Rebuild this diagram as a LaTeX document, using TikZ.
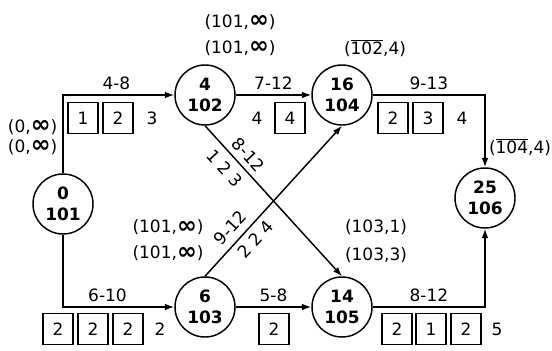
\documentclass[tikz,border=0pt]{standalone}
\usepackage{graphicx}
\usepackage{fontspec}
\setmainfont{DejaVu Sans}
\usetikzlibrary{arrows.meta}
\newcommand{\boldinf}{\raisebox{-0.5pt}{\scalebox{1.4}{\textbf{∞}}}}

\begin{document}
\begin{tikzpicture}[
        x=0.75pt, y=-0.75pt,
        event/.style={circle, draw, line width=1.1pt, minimum size=45pt, inner sep=0pt,
                      align=center, font=\fontsize{12.75}{15.5}\selectfont\bfseries},
        slot/.style={draw, line width=1pt, minimum width=22.5pt, minimum height=23.5pt,
                     inner sep=0pt, font=\fontsize{12.75}{15}\selectfont},
        arr/.style={-{Latex[length=7pt, width=5pt]}, line width=1.1pt},
        lbl/.style={font=\fontsize{12.75}{15}\selectfont},
        pair/.style={align=center, font=\fontsize{12.75}{19.5}\selectfont}
    ]
    \useasboundingbox (0,0) rectangle (552,350);
    % Events
    \node[event] (e0)  at (63,204)  {0\\101};
    \node[event] (e4)  at (205,95)  {4\\102};
    \node[event] (e16) at (342,95)  {16\\104};
    \node[event] (e25) at (485,198) {25\\106};
    \node[event] (e6)  at (205,307) {6\\103};
    \node[event] (e14) at (342,307) {14\\105};
    % Activities
    \draw[arr] (e0) |- (e4) node[pos=0.74, above, lbl] {4-8};
    \draw[arr] (e0) |- (e6) node[pos=0.7, above, lbl] {6-10};
    \draw[arr] (e4) -- (e16) node[midway, above, lbl] {7-12};
    \draw[arr] (e6) -- (e14) node[midway, above, lbl] {5-8};
    \draw[arr] (e16) -| (e25) node[pos=0.25, above, lbl] {9-13};
    \draw[arr] (e14) -| (e25) node[pos=0.25, above, lbl] {8-12};
    \draw[arr] (e4.south) -- (e14.north)
        node[pos=0.25, sloped, above=3pt, lbl, inner sep=1pt] {8-12}
        node[pos=0.22, sloped, below=4pt, lbl, inner sep=1pt] {1 2 3};
    \draw[arr] (e6.north) -- (e16.south)
        node[pos=0.26, sloped, above=4pt, lbl, inner sep=1pt] {9-12}
        node[pos=0.30, sloped, below=3pt, lbl, inner sep=1pt] {2 2 4};
    % Resource boxes
    \foreach \x/\v in {83/1, 118/2, 290/4, 393/2, 428/3}
        \node[slot] (t\x) at (\x,118) {\v};
    \foreach \x/\v in {58/2, 93/2, 128/2, 274/2, 397/2, 431/1, 466/2}
        \node[slot] (b\x) at (\x,329) {\v};
    \node[lbl] (k1) at (152,118) {3};
    \node[lbl] (k2) at (257,118) {4};
    \node[lbl] (k3) at (462,118) {4};
    \node[lbl] (k4) at (160,329) {2};
    \node[lbl] (k5) at (497,329) {5};
    % Labels
    \node[pair, anchor=east, font=\fontsize{12.75}{15}\selectfont] (p0) at (62,137)
        {(0,\boldinf)\\(0,\boldinf)};
    \node[pair] (p4)  at (240,35)  {(101,\boldinf)\\(101,\boldinf)};
    \node[pair] (p6)  at (168,240) {(101,\boldinf)\\(101,\boldinf)};
    \node[pair, font=\fontsize{12.75}{21}\selectfont] (p14) at (376,241) {(103,1)\\(103,3)};
    \node[lbl] (p16) at (375,48)  {(\(\overline{\mbox{102}}\),4)};
    \node[lbl] (p25) at (520,147) {(\(\overline{\mbox{104}}\),4)};
\end{tikzpicture}
\end{document}
